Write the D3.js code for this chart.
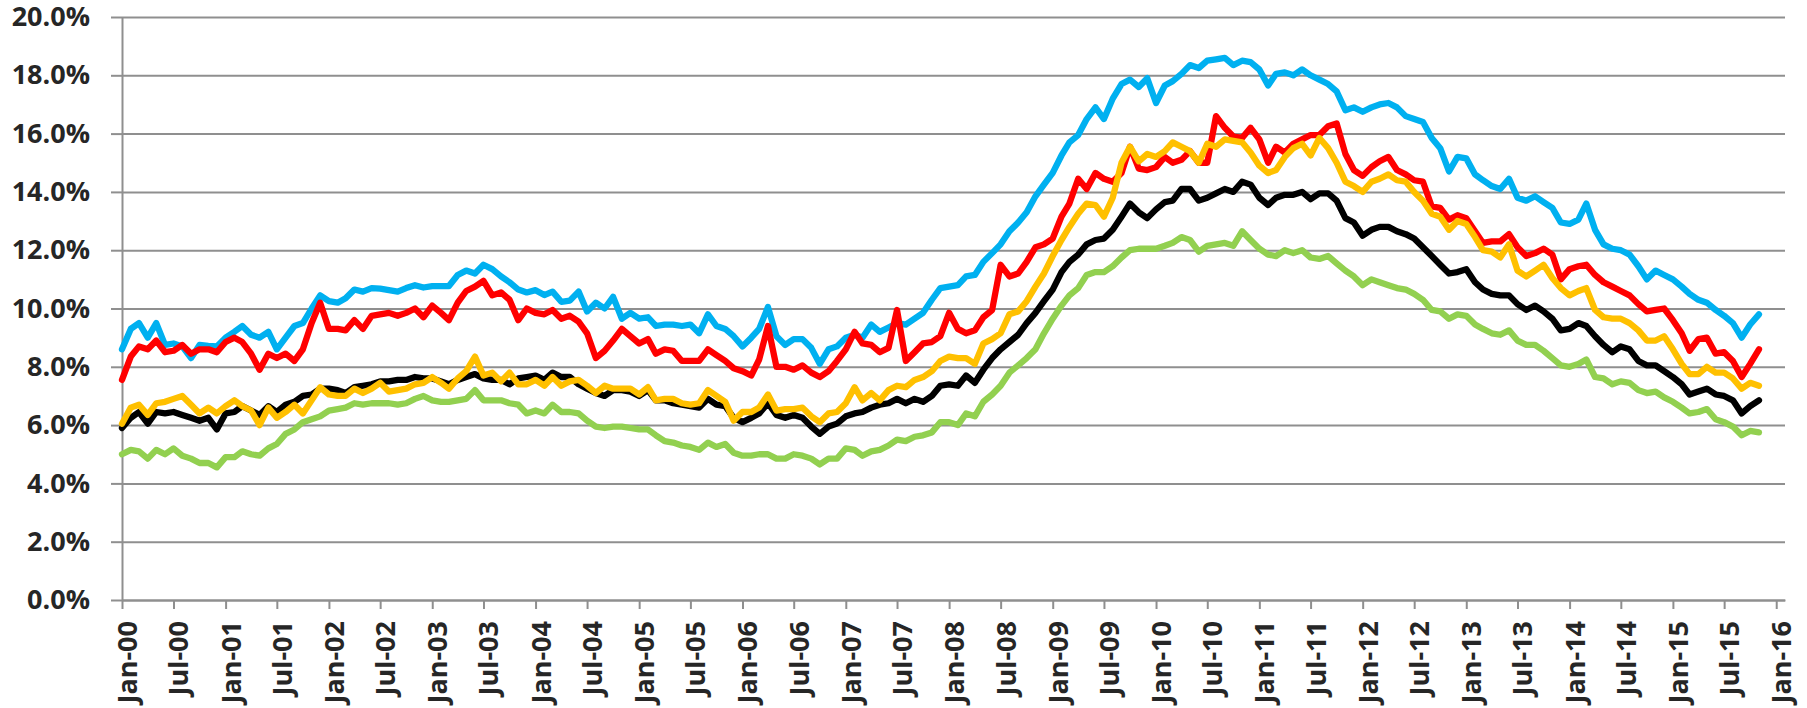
<!DOCTYPE html>
<html>
<head>
<meta charset="utf-8">
<script src="https://cdn.jsdelivr.net/npm/d3@7"></script>
<style>
body { margin: 0; background: #fff; }
svg text { font-family: "Open Sans", sans-serif; font-weight: 700; fill: #262626; }
</style>
</head>
<body>
<svg></svg>
<script>
const blueSeries = [
  8.6, 9.3, 9.5, 9.0, 9.5, 8.75, 8.8, 8.7, 8.3, 8.75,
  8.72, 8.7, 9.0, 9.2, 9.4, 9.1, 9.0, 9.2, 8.6, 9.0,
  9.4, 9.5, 10.0, 10.45, 10.25, 10.2, 10.35, 10.65, 10.58, 10.7,
  10.68, 10.63, 10.58, 10.7, 10.8, 10.72, 10.77, 10.77, 10.77, 11.15,
  11.3, 11.2, 11.5, 11.35, 11.1, 10.9, 10.65, 10.55, 10.63, 10.46,
  10.58, 10.23, 10.27, 10.58, 9.9, 10.2, 10.0, 10.4, 9.65, 9.85,
  9.65, 9.7, 9.4, 9.45, 9.45, 9.4, 9.45, 9.15, 9.8, 9.4,
  9.3, 9.05, 8.7, 9.0, 9.3, 10.05, 9.05, 8.75, 8.95, 8.95,
  8.65, 8.1, 8.6, 8.7, 9.0, 9.1, 9.0, 9.45, 9.2, 9.35,
  9.5, 9.45, 9.65, 9.85, 10.3, 10.7, 10.75, 10.8, 11.1, 11.15,
  11.6, 11.9, 12.2, 12.65, 12.95, 13.3, 13.85, 14.25, 14.65, 15.25,
  15.7, 15.95, 16.5, 16.9, 16.5, 17.2, 17.7, 17.85, 17.6, 17.9,
  17.05, 17.65, 17.8, 18.05, 18.35, 18.25, 18.5, 18.55, 18.6, 18.35,
  18.5, 18.45, 18.2, 17.65, 18.05, 18.1, 18.0, 18.2, 18.0, 17.85,
  17.7, 17.45, 16.8, 16.9, 16.75, 16.9, 17.0, 17.05, 16.9, 16.6,
  16.5, 16.4, 15.85, 15.5, 14.7, 15.2, 15.15, 14.6, 14.4, 14.2,
  14.1, 14.45, 13.8, 13.7, 13.85, 13.65, 13.45, 12.95, 12.9, 13.05,
  13.6, 12.7, 12.2, 12.05, 12.0, 11.85, 11.45, 11.0, 11.3, 11.15,
  11.0, 10.75, 10.5, 10.3, 10.2, 9.95, 9.75, 9.5, 9.0, 9.45, 9.8
]

const redSeries = [
  7.55, 8.35, 8.7, 8.6, 8.9, 8.5, 8.55, 8.75, 8.45, 8.6,
  8.6, 8.5, 8.85, 9.0, 8.85, 8.45, 7.9, 8.45, 8.3, 8.45,
  8.2, 8.6, 9.5, 10.2, 9.3, 9.3, 9.25, 9.6, 9.3, 9.75,
  9.8, 9.85, 9.75, 9.85, 10.0, 9.7, 10.1, 9.85, 9.6, 10.2,
  10.6, 10.75, 10.95, 10.45, 10.55, 10.3, 9.6, 10.0, 9.85, 9.8,
  9.95, 9.65, 9.75, 9.55, 9.15, 8.3, 8.55, 8.9, 9.3, 9.05,
  8.8, 8.95, 8.45, 8.6, 8.55, 8.2, 8.2, 8.2, 8.6, 8.4,
  8.2, 7.95, 7.85, 7.7, 8.25, 9.4, 8.0, 8.0, 7.9, 8.05,
  7.8, 7.65, 7.85, 8.2, 8.6, 9.2, 8.8, 8.75, 8.5, 8.65,
  9.95, 8.2, 8.5, 8.8, 8.85, 9.05, 9.85, 9.3, 9.15, 9.25,
  9.7, 9.95, 11.5, 11.1, 11.2, 11.6, 12.1, 12.2, 12.4, 13.15,
  13.6, 14.45, 14.1, 14.65, 14.45, 14.35, 14.65, 15.55, 14.8, 14.75,
  14.85, 15.2, 15.0, 15.1, 15.4, 15.0, 15.0, 16.6, 16.2, 15.9,
  15.85, 16.2, 15.8, 15.0, 15.55, 15.35, 15.65, 15.8, 15.95, 15.95,
  16.25, 16.35, 15.3, 14.75, 14.55, 14.85, 15.05, 15.2, 14.75, 14.6,
  14.4, 14.35, 13.5, 13.45, 13.05, 13.2, 13.1, 12.65, 12.25, 12.3,
  12.3, 12.55, 12.1, 11.8, 11.9, 12.05, 11.85, 11.0, 11.35, 11.45,
  11.5, 11.15, 10.9, 10.75, 10.6, 10.45, 10.15, 9.9, 9.95, 10.0,
  9.6, 9.15, 8.55, 8.95, 9.0, 8.45, 8.5, 8.2, 7.65, 8.1, 8.6
]

const yellowSeries = [
  6.05, 6.6, 6.7, 6.35, 6.75, 6.8, 6.9, 7.0, 6.7, 6.4,
  6.6, 6.4, 6.65, 6.85, 6.65, 6.5, 6.0, 6.6, 6.25, 6.45,
  6.7, 6.4, 6.85, 7.3, 7.05, 7.0, 7.0, 7.25, 7.1, 7.25,
  7.45, 7.15, 7.2, 7.25, 7.4, 7.45, 7.65, 7.45, 7.25, 7.6,
  7.85, 8.35, 7.7, 7.8, 7.5, 7.8, 7.4, 7.4, 7.55, 7.35,
  7.65, 7.35, 7.5, 7.55, 7.35, 7.1, 7.35, 7.25, 7.25, 7.25,
  7.05, 7.3, 6.85, 6.9, 6.9, 6.75, 6.7, 6.75, 7.2, 7.0,
  6.8, 6.15, 6.45, 6.45, 6.6, 7.05, 6.5, 6.55, 6.55, 6.6,
  6.3, 6.1, 6.4, 6.45, 6.75, 7.3, 6.85, 7.1, 6.85, 7.2,
  7.35, 7.3, 7.55, 7.65, 7.85, 8.2, 8.35, 8.3, 8.3, 8.1,
  8.8, 8.95, 9.15, 9.8, 9.9, 10.25, 10.75, 11.2, 11.8, 12.35,
  12.8, 13.25, 13.6, 13.55, 13.15, 13.8, 15.0, 15.55, 15.05, 15.3,
  15.2, 15.4, 15.7, 15.55, 15.4, 15.0, 15.65, 15.55, 15.8, 15.75,
  15.7, 15.35, 14.9, 14.65, 14.75, 15.2, 15.5, 15.65, 15.25, 15.85,
  15.5, 15.0, 14.35, 14.2, 14.0, 14.35, 14.45, 14.6, 14.4, 14.35,
  14.0, 13.7, 13.25, 13.15, 12.7, 13.0, 12.9, 12.45, 12.0, 11.95,
  11.75, 12.2, 11.3, 11.1, 11.3, 11.5, 11.05, 10.7, 10.45, 10.6,
  10.7, 9.95, 9.7, 9.65, 9.65, 9.5, 9.25, 8.9, 8.9, 9.05,
  8.6, 8.1, 7.75, 7.75, 8.0, 7.8, 7.8, 7.6, 7.25, 7.45, 7.35
]

const blackSeries = [
  5.9, 6.25, 6.45, 6.05, 6.45, 6.4, 6.45, 6.35, 6.25, 6.15,
  6.25, 5.85, 6.4, 6.45, 6.65, 6.5, 6.35, 6.65, 6.45, 6.7,
  6.8, 7.0, 7.05, 7.25, 7.25, 7.2, 7.1, 7.3, 7.35, 7.4,
  7.5, 7.5, 7.55, 7.55, 7.65, 7.6, 7.6, 7.5, 7.4, 7.55,
  7.65, 7.75, 7.6, 7.55, 7.55, 7.4, 7.6, 7.65, 7.7, 7.55,
  7.8, 7.65, 7.65, 7.4, 7.25, 7.1, 7.0, 7.2, 7.2, 7.15,
  7.0, 7.2, 6.85, 6.85, 6.75, 6.7, 6.65, 6.6, 6.9, 6.7,
  6.65, 6.25, 6.1, 6.25, 6.4, 6.75, 6.35, 6.25, 6.35, 6.25,
  5.95, 5.7, 5.95, 6.05, 6.3, 6.4, 6.45, 6.6, 6.7, 6.75,
  6.9, 6.75, 6.9, 6.8, 7.0, 7.35, 7.4, 7.35, 7.7, 7.45,
  7.9, 8.3, 8.6, 8.85, 9.1, 9.5, 9.85, 10.25, 10.65, 11.25,
  11.6, 11.85, 12.2, 12.35, 12.4, 12.7, 13.15, 13.6, 13.3, 13.1,
  13.4, 13.65, 13.7, 14.1, 14.1, 13.7, 13.8, 13.95, 14.1, 14.0,
  14.35, 14.25, 13.8, 13.55, 13.8, 13.9, 13.9, 14.0, 13.75, 13.95,
  13.95, 13.7, 13.1, 12.95, 12.5, 12.7, 12.8, 12.8, 12.65, 12.55,
  12.4, 12.1, 11.8, 11.5, 11.2, 11.25, 11.35, 10.9, 10.65, 10.5,
  10.45, 10.45, 10.15, 9.95, 10.1, 9.9, 9.65, 9.25, 9.3, 9.5,
  9.4, 9.05, 8.75, 8.5, 8.7, 8.6, 8.2, 8.05, 8.05, 7.85,
  7.65, 7.4, 7.05, 7.15, 7.25, 7.05, 7.0, 6.85, 6.4, 6.65, 6.85
]

const greenSeries = [
  5.0, 5.15, 5.1, 4.85, 5.15, 5.0, 5.2, 4.95, 4.85, 4.7,
  4.7, 4.55, 4.9, 4.9, 5.1, 5.0, 4.95, 5.2, 5.35, 5.7,
  5.85, 6.1, 6.2, 6.3, 6.5, 6.55, 6.6, 6.75, 6.7, 6.75,
  6.75, 6.75, 6.7, 6.75, 6.9, 7.0, 6.85, 6.8, 6.8, 6.85,
  6.9, 7.2, 6.85, 6.85, 6.85, 6.75, 6.7, 6.4, 6.5, 6.4,
  6.7, 6.45, 6.45, 6.4, 6.15, 5.95, 5.9, 5.95, 5.95, 5.9,
  5.85, 5.85, 5.65, 5.45, 5.4, 5.3, 5.25, 5.15, 5.4, 5.25,
  5.35, 5.05, 4.95, 4.95, 5.0, 5.0, 4.85, 4.85, 5.0, 4.95,
  4.85, 4.65, 4.85, 4.85, 5.2, 5.15, 4.95, 5.1, 5.15, 5.3,
  5.5, 5.45, 5.6, 5.65, 5.75, 6.1, 6.1, 6.0, 6.4, 6.3,
  6.8, 7.05, 7.35, 7.8, 8.05, 8.3, 8.6, 9.15, 9.65, 10.1,
  10.45, 10.7, 11.15, 11.25, 11.25, 11.45, 11.75, 12.0, 12.05, 12.05,
  12.05, 12.15, 12.25, 12.45, 12.35, 11.95, 12.15, 12.2, 12.25, 12.15,
  12.65, 12.35, 12.05, 11.85, 11.8, 12.0, 11.9, 12.0, 11.75, 11.7,
  11.8, 11.55, 11.3, 11.1, 10.8, 11.0, 10.9, 10.8, 10.7, 10.65,
  10.5, 10.3, 9.95, 9.9, 9.65, 9.8, 9.75, 9.45, 9.3, 9.15,
  9.1, 9.25, 8.9, 8.75, 8.75, 8.55, 8.3, 8.05, 8.0, 8.1,
  8.25, 7.65, 7.6, 7.4, 7.5, 7.45, 7.2, 7.1, 7.15, 6.95,
  6.8, 6.6, 6.4, 6.45, 6.55, 6.2, 6.1, 5.95, 5.65, 5.8, 5.75
]

const yTicks = [0, 2, 4, 6, 8, 10, 12, 14, 16, 18, 20]

// drawn in this order, last on top
const series = [
  { values: greenSeries, color: '#92D050' },
  { values: blackSeries, color: '#000000' },
  { values: blueSeries, color: '#00B0F0' },
  { values: redSeries, color: '#FF0000' },
  { values: yellowSeries, color: '#FFC000' }
]

const svgWidth = 1807
const svgHeight = 708
const plotLeft = 122
const plotRight = 1785
const plotTop = 17
const plotBottom = 600
const gridColor = '#8f8f8f'

const firstMonth = new Date(2000, 0, 1)
const dateAt = (i) => d3.timeMonth.offset(firstMonth, i)

const svg = d3.select('svg')
  .attr('width', svgWidth)
  .attr('height', svgHeight)

const xScale = d3.scaleTime()
  .domain([firstMonth, new Date(2016, 1, 1)])
  .range([plotLeft, plotRight])

const yScale = d3.scaleLinear()
  .domain([0, 20])
  .range([plotBottom, plotTop])

const grid = svg.append('g')
  .attr('transform', 'translate(' + plotLeft + ',0)')
  .call(d3.axisLeft(yScale).tickValues(yTicks).tickSize(-(plotRight - plotLeft)).tickFormat(''))
grid.select('.domain').remove()
grid.selectAll('line').attr('stroke', gridColor).attr('stroke-width', 2)

const yAxis = svg.append('g')
  .attr('transform', 'translate(' + plotLeft + ',0)')
  .call(d3.axisLeft(yScale)
    .tickValues(yTicks)
    .tickSize(11)
    .tickSizeOuter(0)
    .tickPadding(21)
    .tickFormat(d => d.toFixed(1) + '%'))
yAxis.select('.domain').attr('stroke', gridColor).attr('stroke-width', 2)
yAxis.selectAll('line').attr('stroke', gridColor).attr('stroke-width', 2)
yAxis.selectAll('text').style('font-size', '27px')

const xAxis = svg.append('g')
  .attr('transform', 'translate(0,' + plotBottom + ')')
  .call(d3.axisBottom(xScale)
    .ticks(d3.timeMonth.every(6))
    .tickSize(9)
    .tickSizeOuter(0)
    .tickFormat(d3.timeFormat('%b-%y')))
xAxis.select('.domain').attr('stroke', gridColor).attr('stroke-width', 2)
xAxis.selectAll('line').attr('stroke', gridColor).attr('stroke-width', 2)
xAxis.selectAll('text')
  .style('font-size', '27px')
  .attr('text-anchor', 'end')
  .attr('transform', 'rotate(-90)')
  .attr('x', -21)
  .attr('y', 5)
  .attr('dy', '0.35em')

const line = d3.line()
  .x((d, i) => xScale(dateAt(i)))
  .y(d => yScale(d))

svg.append('g')
  .selectAll('path')
  .data(series)
  .enter()
  .append('path')
  .attr('d', d => line(d.values))
  .attr('fill', 'none')
  .attr('stroke', d => d.color)
  .attr('stroke-width', 6.3)
  .attr('stroke-linejoin', 'round')
  .attr('stroke-linecap', 'round')
</script>
</body>
</html>
